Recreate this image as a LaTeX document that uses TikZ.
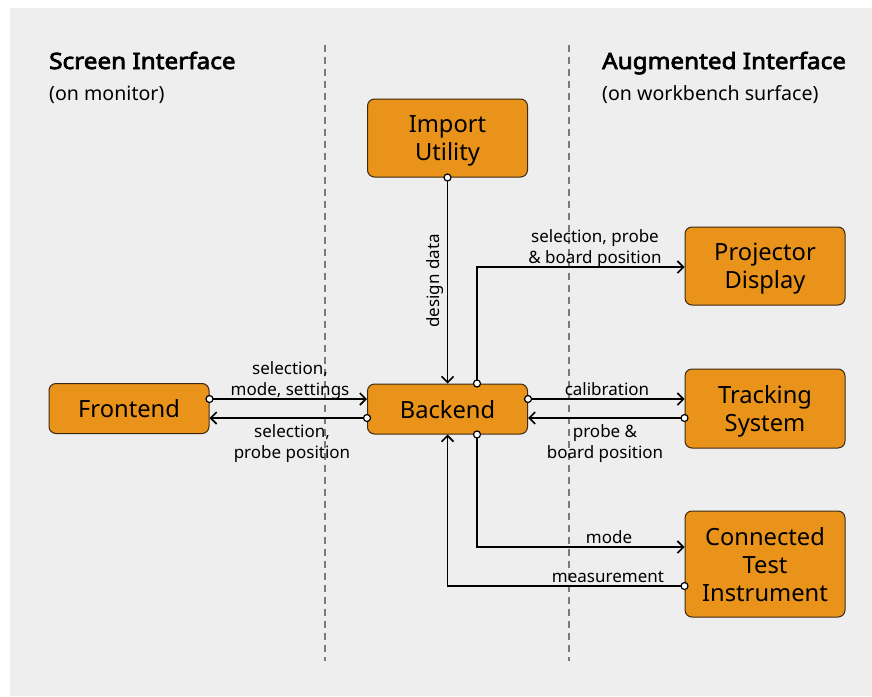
\documentclass[tikz,border=0pt]{standalone}
\usepackage{fontspec}
\setmainfont{Noto Sans}
\newfontfamily\headfont{Noto Sans}[FakeBold=3.2, FakeStretch=1.08]
\usetikzlibrary{arrows.meta}
\definecolor{panel}{HTML}{EEEEEE}
\definecolor{blockfill}{HTML}{E9931A}
\definecolor{blockline}{HTML}{3B2A12}
\definecolor{guide}{HTML}{7A7A7A}
\begin{document}
\begin{tikzpicture}[x=1pt,y=-1pt,
  block/.style={draw=blockline, line width=1pt, fill=blockfill, rounded corners=7pt,
    minimum width=160pt, inner sep=0pt, align=center, text depth=0pt,
    font=\fontsize{23.7}{28}\selectfont},
  flow/.style={line width=1.6pt, -{Straight Barb[length=6pt,width=12pt,line width=1.6pt]}},
  lbl/.style={inner sep=0pt, align=center, font=\fontsize{17}{21}\selectfont},
  dot/.style={fill=white, draw=black, line width=1.2pt},
  divider/.style={draw=guide, line width=1.5pt, dash pattern=on 7pt off 5pt},
  heading/.style={anchor=base west, inner sep=0pt, font=\headfont\fontsize{22.5}{26}\selectfont},
  subheading/.style={anchor=base west, inner sep=0pt, font=\fontsize{19.6}{23}\selectfont}]

% frame
\useasboundingbox (0,0) rectangle (872,696);
\fill[white] (0,0) rectangle (872,696);
\fill[panel] (10,8) rectangle (872,696);

% column dividers
\draw[divider] (325,45) -- (325,661);
\draw[divider] (569,45) -- (569,661);

% column headings
\node[heading] (hscreen) at (49,69) {Screen Interface};
\node[subheading] (sscreen) at (49,100) {(on monitor)};
\node[heading] (haug) at (602,69) {Augmented Interface};
\node[subheading] (saug) at (602,100) {(on workbench surface)};

% components
\node[block, minimum height=78pt] (iu) at (447.5,138) {Import\\Utility};
\node[block, minimum height=50pt] (fe) at (129,408.5) {Frontend};
\node[block, minimum height=50pt] (be) at (447.5,409) {Backend};
\node[block, minimum height=78pt] (pd) at (765,266) {Projector\\Display};
\node[block, minimum height=79pt] (ts) at (765,408.5) {Tracking\\System};
\node[block, minimum height=106pt] (cti) at (765,564) {Connected\\Test\\Instrument};

% data flows
\draw[flow] (fe.east |- 0,399) -- (be.west |- 0,399);
\draw[flow] (be.west |- 0,418) -- (fe.east |- 0,418);
\draw[flow] (iu.south) -- (be.north);
\draw[flow] (be.north -| 477,0) |- (pd.west |- 0,267);
\draw[flow] (be.east |- 0,399) -- (ts.west |- 0,399);
\draw[flow] (ts.west |- 0,418) -- (be.east |- 0,418);
\draw[flow] (be.south -| 477,0) |- (cti.west |- 0,547);
\draw[flow] (cti.west |- 0,586) -| (be.south);

% sources of the flows
\draw[dot] (fe.east |- 0,399) circle (3.5pt);
\draw[dot] (be.west |- 0,418) circle (3.5pt);
\draw[dot] (iu.south) circle (3.5pt);
\draw[dot] (be.north -| 477,0) circle (3.5pt);
\draw[dot] (be.east |- 0,399) circle (3.5pt);
\draw[dot] (ts.west |- 0,418) circle (3.5pt);
\draw[dot] (be.south -| 477,0) circle (3.5pt);
\draw[dot] (cti.west |- 0,586) circle (3.5pt);

% flow labels
\node[lbl] (l1) at (290,381) {selection,\\mode, settings};
\node[lbl] (l2) at (292,444) {selection,\\probe position};
\node[lbl, rotate=90] (l3) at (435,281) {design data};
\node[lbl] (l4) at (595,249) {selection, probe\\\& board position};
\node[lbl] (l5) at (607,389) {calibration};
\node[lbl] (l6) at (605,444) {probe \&\\board position};
\node[lbl] (l7) at (609,537) {mode};
\node[lbl] (l8) at (608,577) {measurement};
\end{tikzpicture}
\end{document}
